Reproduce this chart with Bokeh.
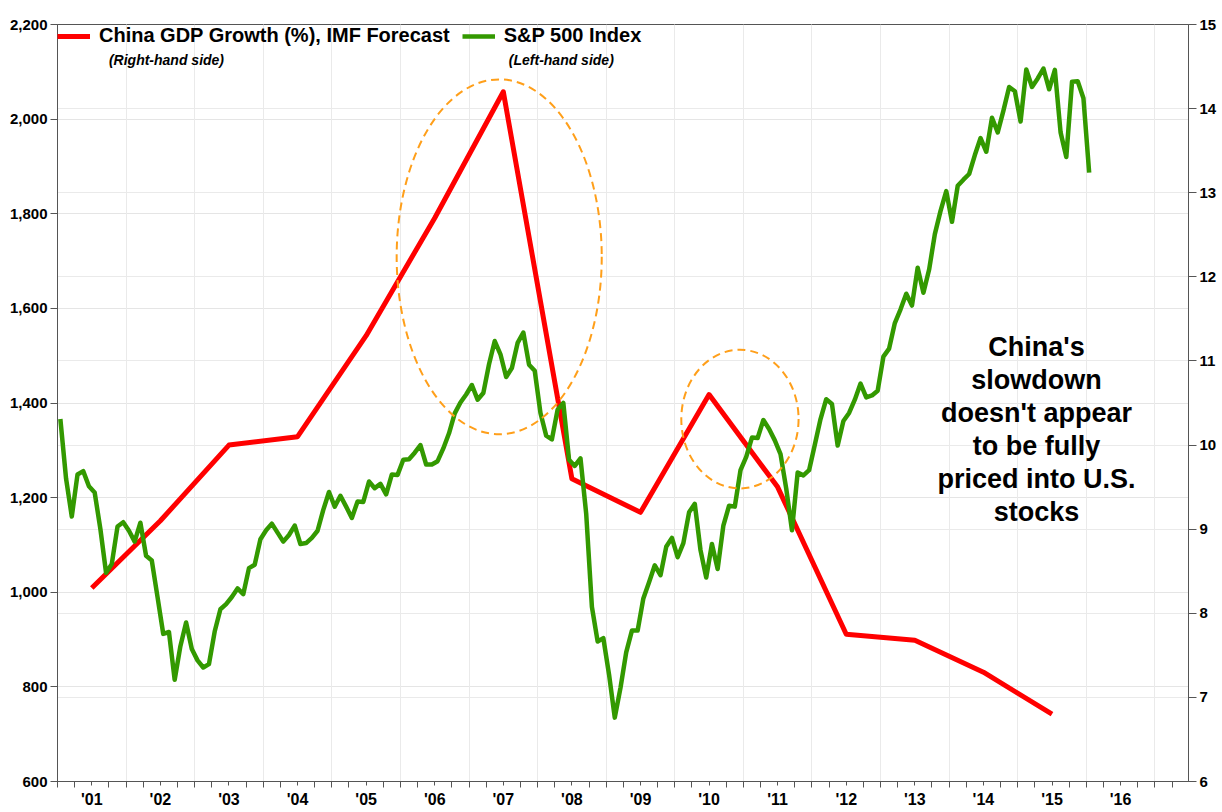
from bokeh.plotting import figure
from bokeh.models import (Range1d, LinearAxis, FixedTicker, NumeralTickFormatter,
                          Grid, Legend, LegendItem, Label)
from bokeh.embed import file_html
from bokeh.resources import INLINE

# ---------------- data ----------------
gdp_years = [2001, 2002, 2003, 2004, 2005, 2006, 2007, 2008, 2009, 2010,
             2011, 2012, 2013, 2014, 2015]
gdp_growth = [8.3, 9.1, 10.0, 10.1, 11.3, 12.7, 14.2, 9.6, 9.2, 10.6,
              9.5, 7.75, 7.68, 7.3, 6.8]

sp_start_year = 2001
sp2001 = [1366, 1240, 1160, 1249, 1256, 1224, 1211, 1134, 1041, 1060, 1139, 1148]
sp2002 = [1130, 1107, 1147, 1077, 1067, 990, 912, 916, 815, 886, 936, 880]
sp2003 = [856, 841, 848, 917, 964, 975, 990, 1008, 996, 1051, 1058, 1112]
sp2004 = [1131, 1145, 1126, 1107, 1121, 1141, 1102, 1104, 1115, 1130, 1174, 1212]
sp2005 = [1181, 1204, 1181, 1157, 1192, 1191, 1234, 1220, 1229, 1207, 1249, 1248]
sp2006 = [1280, 1281, 1295, 1311, 1270, 1270, 1277, 1304, 1336, 1378, 1401, 1418]
sp2007 = [1438, 1407, 1421, 1482, 1531, 1503, 1455, 1474, 1527, 1549, 1481, 1468]
sp2008 = [1379, 1331, 1323, 1386, 1400, 1280, 1267, 1283, 1166, 969, 896, 903]
sp2009 = [826, 735, 798, 873, 919, 919, 987, 1021, 1057, 1036, 1096, 1115]
sp2010 = [1074, 1104, 1169, 1187, 1089, 1031, 1102, 1049, 1141, 1183, 1181, 1258]
sp2011 = [1286, 1327, 1326, 1364, 1345, 1321, 1292, 1219, 1131, 1253, 1247, 1258]
sp2012 = [1312, 1366, 1408, 1398, 1310, 1362, 1379, 1407, 1441, 1412, 1416, 1426]
sp2013 = [1498, 1515, 1569, 1598, 1631, 1606, 1686, 1633, 1682, 1757, 1806, 1848]
sp2014 = [1783, 1859, 1872, 1884, 1924, 1960, 1931, 2003, 1972, 2018, 2068, 2059]
sp2015 = [1995, 2105, 2068, 2086, 2107, 2063, 2104, 1972, 1920, 2079, 2080, 2044]
sp2016 = [1887]

year_labels = ["'01", "'02", "'03", "'04", "'05", "'06", "'07", "'08",
               "'09", "'10", "'11", "'12", "'13", "'14", "'15", "'16"]
left_ticks = [600, 800, 1000, 1200, 1400, 1600, 1800, 2000, 2200]
right_ticks = [6, 7, 8, 9, 10, 11, 12, 13, 14, 15]

legend_labels = ["China GDP Growth (%), IMF Forecast", "S&P 500 Index"]
legend_notes = ["(Right-hand side)", "(Left-hand side)"]
note_text = "China's\nslowdown\ndoesn't appear\nto be fully\npriced into U.S.\nstocks"

# highlighted regions (centre x, centre y, width in years, height in index pts)
ell_x = [2007.44, 2010.95]
ell_y = [1709, 1366]
ell_w = [2.99, 1.71]
ell_h = [750, 293]

# ---------------- derived positions ----------------
sp_all = (sp2001 + sp2002 + sp2003 + sp2004 + sp2005 + sp2006 + sp2007 + sp2008 +
          sp2009 + sp2010 + sp2011 + sp2012 + sp2013 + sp2014 + sp2015 + sp2016)
sp_x = [sp_start_year + (i + 0.5) / 12.0 for i in range(len(sp_all))]
gdp_x = [y + 0.5 for y in gdp_years]

first_year = 2001
n_years = len(year_labels)
year_bounds = [first_year + i for i in range(n_years + 1)]
mid_years = [first_year + i + 0.5 for i in range(n_years)]
quarter_ticks = [first_year + i * 0.25 for i in range(n_years * 4 + 2)
                 if (i % 4) != 2]

AX = "#555555"
FONT = "Liberation Sans"

p = figure(width=1222, height=810, x_range=Range1d(2001.0, 2017.49),
           y_range=Range1d(600, 2200), output_backend="svg",
           toolbar_location=None, x_axis_location=None, y_axis_location=None,
           min_border_left=57, min_border_right=34, min_border_top=24,
           min_border_bottom=25)
p.extra_y_ranges = {"gdp": Range1d(6, 15)}
p.outline_line_color = AX
p.background_fill_color = "white"

# grids
p.add_layout(Grid(dimension=0, ticker=FixedTicker(ticks=year_bounds),
                  grid_line_color="#EAEAEA", grid_line_width=1))
p.add_layout(Grid(dimension=1, y_range_name="gdp", ticker=FixedTicker(ticks=right_ticks),
                  grid_line_color="#EAEAEA", grid_line_width=1))

# x axis: labels centred in each year, quarterly tick marks
xa = LinearAxis(ticker=FixedTicker(ticks=mid_years, minor_ticks=quarter_ticks),
                major_label_overrides={m: l for m, l in zip(mid_years, year_labels)},
                axis_line_color=AX, major_tick_line_color=AX, minor_tick_line_color=AX,
                major_tick_out=4, major_tick_in=0, minor_tick_out=6, minor_tick_in=0,
                major_label_standoff=3,
                major_label_text_font=FONT, major_label_text_font_style="bold",
                major_label_text_font_size="16px", major_label_text_color="black")
p.add_layout(xa, "below")

ya = LinearAxis(ticker=FixedTicker(ticks=left_ticks, minor_ticks=[]),
                formatter=NumeralTickFormatter(format="0,0"),
                axis_line_color=AX, major_tick_line_color=AX, minor_tick_line_color=None,
                major_tick_out=7, major_tick_in=0, major_label_standoff=3,
                major_label_text_font=FONT, major_label_text_font_style="bold",
                major_label_text_font_size="15px", major_label_text_color="black")
p.add_layout(ya, "left")
yr = LinearAxis(y_range_name="gdp", ticker=FixedTicker(ticks=right_ticks, minor_ticks=[]),
                axis_line_color=AX, major_tick_line_color=AX, minor_tick_line_color=None,
                major_tick_out=8, major_tick_in=0, major_label_standoff=3,
                major_label_text_font=FONT, major_label_text_font_style="bold",
                major_label_text_font_size="15px", major_label_text_color="black")
p.add_layout(yr, "right")

r_red = p.line(gdp_x, gdp_growth, y_range_name="gdp", line_color="#FF0000",
               line_width=5, line_join="round")
r_green = p.line(sp_x, sp_all, line_color="#339900", line_width=4.5, line_join="round")

p.ellipse(x=ell_x, y=ell_y, width=ell_w, height=ell_h, fill_color=None,
          line_color="#FF9F1A", line_width=2, line_dash="8 5")

legend = Legend(items=[LegendItem(label=legend_labels[0], renderers=[r_red]),
                       LegendItem(label=legend_labels[1], renderers=[r_green])],
                orientation="horizontal", location="top_left", margin=0, padding=12,
                spacing=12, glyph_width=33, label_standoff=9,
                border_line_color=None, background_fill_alpha=0,
                label_text_font=FONT, label_text_font_style="bold",
                label_text_font_size="20px", label_text_color="black")
p.add_layout(legend)

p.add_layout(Label(x=2001.75, y=2126, text=legend_notes[0], text_baseline="middle",
                   text_font=FONT, text_font_style="bold italic",
                   text_font_size="14px", text_color="black"))
p.add_layout(Label(x=2007.58, y=2126, text=legend_notes[1], text_baseline="middle",
                   text_font=FONT, text_font_style="bold italic",
                   text_font_size="14px", text_color="black"))

p.add_layout(Label(x=2015.275, y=1551, text=note_text, text_align="center",
                   text_baseline="top", text_font=FONT,
                   text_font_style="bold", text_font_size="27px",
                   text_line_height=1.1, text_color="black"))

open("out.html", "w").write(file_html(p, INLINE))
